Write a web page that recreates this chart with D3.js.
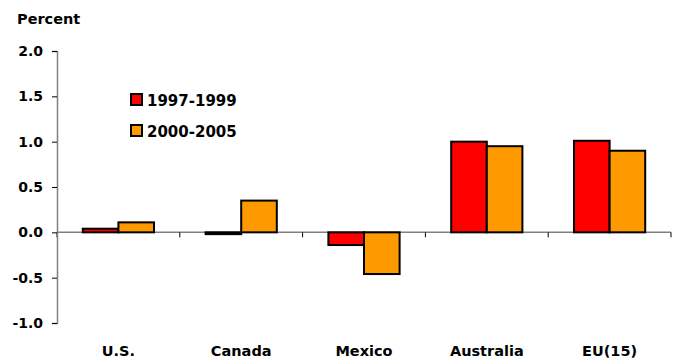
<!DOCTYPE html>
<html>
<head>
<meta charset="utf-8">
<script src="https://cdn.jsdelivr.net/npm/d3@7"></script>
<style>
  body { margin: 0; background: #fff; }
  text { font-family: "DejaVu Sans", sans-serif; font-weight: 700; fill: #000; }
</style>
</head>
<body>
<svg id="chart" width="676" height="358"></svg>
<script>
// Countries along the x axis
const categories = ["U.S.", "Canada", "Mexico", "Australia", "EU(15)"];
// Series values, percent
const series1997 = [0.04, -0.02, -0.14, 1.00, 1.01];
const series2000 = [0.11, 0.35, -0.46, 0.95, 0.90];
const seriesNames = ["1997-1999", "2000-2005"];
const seriesColors = ["#ff0000", "#ff9900"];
// Y axis ticks
const yTicks = [-1.0, -0.5, 0.0, 0.5, 1.0, 1.5, 2.0];

const svg = d3.select("#chart");
const margin = { left: 57 };

const x = d3.scaleBand().domain(categories).range([margin.left, 671]).padding(0);
const y = d3.scaleLinear().domain([-1, 2]).range([323, 51]);

const barFrac = 0.29;
const bw = x.bandwidth() * barFrac;

const data = categories.map((c, i) => ({ c, vals: [series1997[i], series2000[i]] }));

// Zero line with category separators
const gx = svg.append("g");
gx.append("line").attr("x1", margin.left).attr("x2", 671)
  .attr("y1", y(0)).attr("y2", y(0)).attr("stroke", "#808080").attr("stroke-width", 1.5);
const bounds = categories.map(c => x(c)).concat([x(categories[categories.length - 1]) + x.bandwidth()]);
gx.selectAll("line.sep").data(bounds).join("line").attr("class", "sep")
  .attr("x1", d => d).attr("x2", d => d)
  .attr("y1", y(0)).attr("y2", y(0) + 5).attr("stroke", "#000");

// Bars, two per country, side by side around the band centre
const groups = svg.append("g").selectAll("g").data(data).join("g");
groups.selectAll("rect")
  .data(d => d.vals.map((v, k) => ({ c: d.c, v, k })))
  .join("rect")
  .attr("x", d => x(d.c) + x.bandwidth() / 2 - bw + d.k * bw)
  .attr("y", d => y(Math.max(0, d.v)))
  .attr("width", bw)
  .attr("height", d => Math.abs(y(d.v) - y(0)))
  .attr("fill", d => seriesColors[d.k])
  .attr("stroke", "#000")
  .attr("stroke-width", 2);

// Y axis
const fmt = d3.format(".1f");
const yAxis = d3.axisLeft(y).tickValues(yTicks).tickSize(5).tickPadding(9);
const gy = svg.append("g").attr("transform", `translate(${margin.left},0)`).call(yAxis);
gy.select(".domain").attr("stroke", "#808080").attr("stroke-width", 1.5);
gy.selectAll(".tick line").attr("stroke", "#000");
gy.selectAll(".tick text").attr("font-size", 14).style("font-weight", 700)
  .style("font-family", "'DejaVu Sans', sans-serif")
  .text(d => d < 0 ? "-" + fmt(-d) : fmt(d));

// Category labels
svg.append("g").selectAll("text").data(categories).join("text")
  .attr("x", d => x(d) + x.bandwidth() / 2)
  .attr("y", 356)
  .attr("text-anchor", "middle")
  .attr("font-size", 14.5)
  .text(d => d);

// Axis title
svg.append("text").attr("x", 17).attr("y", 24).attr("font-size", 14.5).text("Percent");

// Legend
const leg = svg.append("g").selectAll("g").data(seriesNames).join("g")
  .attr("transform", (d, i) => `translate(131,${94 + i * 31})`);
leg.append("rect").attr("width", 11).attr("height", 11)
  .attr("fill", (d, i) => seriesColors[i]).attr("stroke", "#000").attr("stroke-width", 2);
leg.append("text").attr("x", 16).attr("y", 12).attr("font-size", 15).text(d => d);
</script>
</body>
</html>
